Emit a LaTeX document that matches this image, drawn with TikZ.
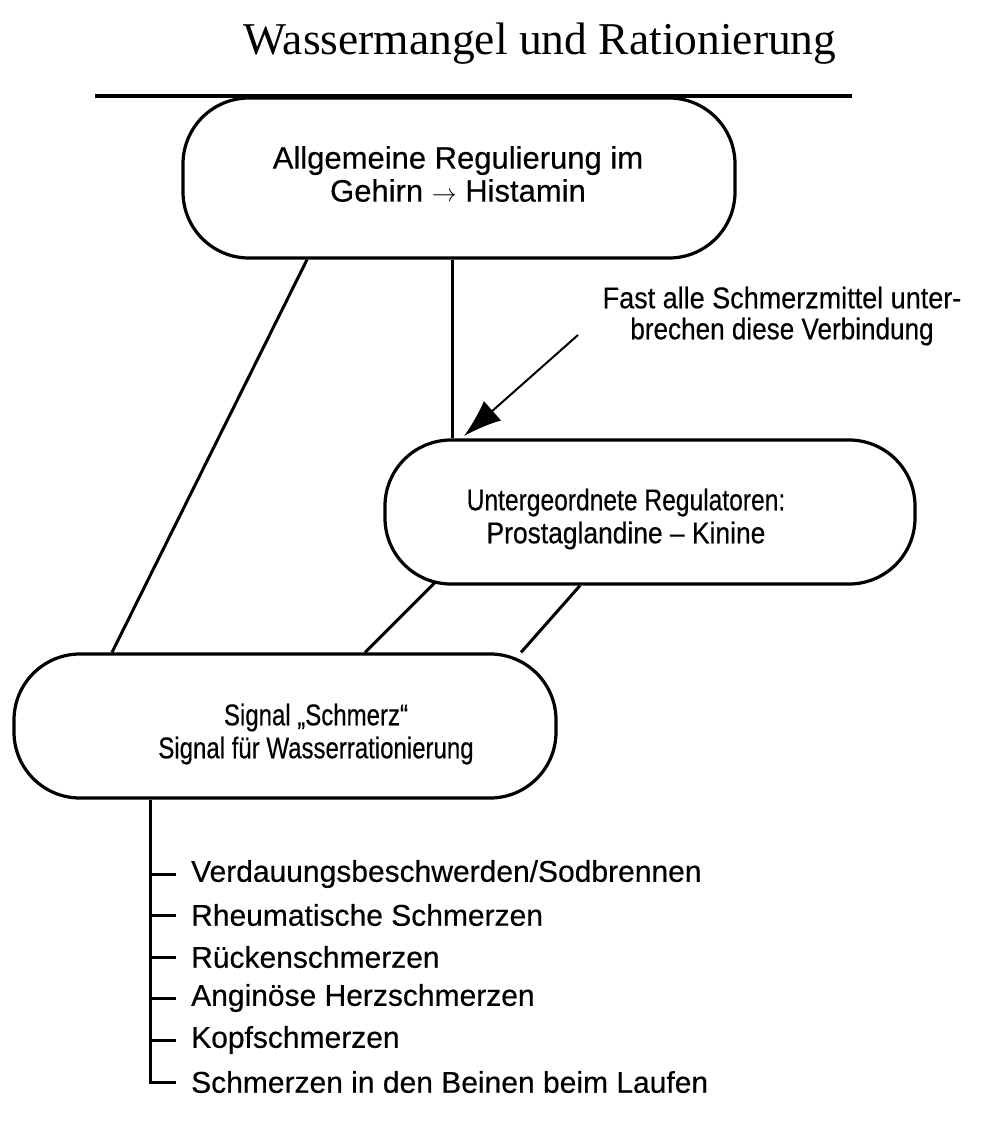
\documentclass[tikz,border=0pt]{standalone}
\usepackage{fontspec}
\usepackage{graphicx}
\setmainfont{Liberation Sans}[FakeBold=0.4]
\newfontfamily\titlefont{Liberation Serif}
\newcommand{\hsc}[2]{\scalebox{#1}[1]{#2}}
\usetikzlibrary{arrows.meta,calc}
\begin{document}
\begin{tikzpicture}[x=1pt,y=-1pt,
  box/.style={draw,line width=3.2pt,rounded corners=66pt,inner sep=0pt},
  btext/.style={inner sep=0pt,align=center,font=\fontsize{30}{33}\selectfont},
  conn/.style={line width=3pt},
  item/.style={anchor=west,inner sep=0pt,font=\fontsize{30}{34}\selectfont}]
\useasboundingbox (0,0) rectangle (988,1122);
% title and rule
\node[anchor=base,inner sep=0pt,font=\titlefont\fontsize{45.5}{50}\selectfont] (title) at (540,54) {Wassermangel und Rationierung};
\coordinate (ruleL) at (95,96);
\coordinate (ruleR) at (852,96);
\draw[line width=3.6pt] (ruleL) -- (ruleR);
% boxes
\node[box,minimum width=552pt,minimum height=160pt] (box1) at (459,178) {};
\node[btext,font=\fontsize{31}{33}\selectfont] (t1) at (458,174) {Allgemeine Regulierung im\\Gehirn $\rightarrow$ Histamin};
\node[box,minimum width=530pt,minimum height=144pt] (box2) at (650,512) {};
\node[btext] (t2) at (626,519) {\hsc{0.82}{Untergeordnete Regulatoren:}\\\hsc{0.88}{Prostaglandine -- Kinine}};
\node[box,minimum width=542pt,minimum height=144pt] (box3) at (285,726) {};
\node[btext] (t3) at (316,734) {\hsc{0.8}{Signal „Schmerz“}\\\hsc{0.8}{Signal für Wasserrationierung}};
% label and arrow
\node[btext,font=\fontsize{30}{31}\selectfont] (lbl) at (782,316) {\hsc{0.9}{Fast alle Schmerzmittel unter-}\\\hsc{0.87}{brechen diese Verbindung}};
\coordinate (arrS) at (578,335);
\coordinate (arrT) at (464,436);
\draw[line width=2pt,-{Latex[length=38pt,width=26pt]}] (arrS) -- (arrT);
% connectors
\coordinate (vtop) at ([xshift=-7pt]box1.south);
\draw[conn] ([xshift=-152pt]box1.south) -- ([xshift=-173pt]box3.north);
\draw[conn] (vtop) -- (box2.north -| vtop);
\draw[conn] ($(box2.south)+(-215,-3)$) -- ([xshift=80pt]box3.north);
\draw[conn] ([xshift=-70pt]box2.south) -- ([xshift=236pt]box3.north);
% list
\node[item] (it1) at (191,874) {Verdauungsbeschwerden/Sodbrennen};
\node[item] (it2) at (191,915) {Rheumatische Schmerzen};
\node[item] (it3) at (191,957) {Rückenschmerzen};
\node[item] (it4) at (191,998) {Anginöse Herzschmerzen};
\node[item] (it5) at (191,1040) {Kopfschmerzen};
\node[item] (it6) at (191,1082) {Schmerzen in den Beinen beim Laufen};
\coordinate (trunk) at ([xshift=-135pt]box3.south);
\draw[conn] (trunk) |- ([xshift=-15pt]it6.west);
\foreach \i in {1,...,5}{
  \draw[conn] (it\i.west -| trunk) -- ([xshift=-15pt]it\i.west);
}
\end{tikzpicture}
\end{document}
